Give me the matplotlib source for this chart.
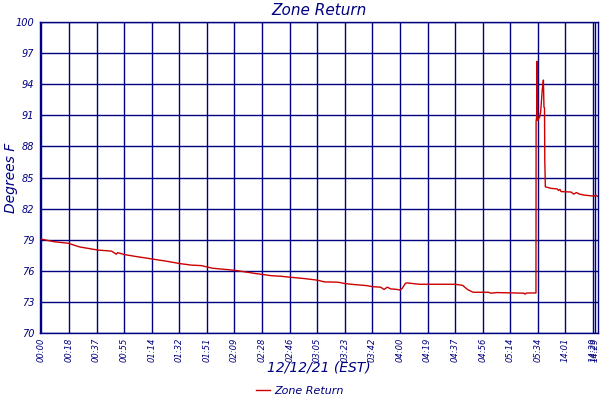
import matplotlib
matplotlib.use("Agg")
import matplotlib.pyplot as plt

# sample position (in tick-label units) and temperature
pos = [0, 0.48, 0.97, 1.39, 2.05, 2.54, 2.72, 2.76, 3.02, 3.38, 3.99, 4.35,
       4.59, 5.01, 5.43, 5.8, 6.2, 6.6, 7.0, 7.25, 7.5, 7.7, 8.0, 8.33, 8.7,
       9.06, 9.54, 10.0, 10.26, 10.75, 11.0, 11.35, 11.8, 12.0, 12.3, 12.42,
       12.54, 12.67, 12.84, 13.0, 13.08, 13.2, 13.26, 13.6, 13.72, 15.0,
       15.27, 15.4, 15.48, 15.65, 16.2, 16.3, 16.5, 17.5, 17.53, 17.6, 17.87,
       17.93, 17.935, 17.96, 17.97, 17.99, 18.0, 18.03, 18.06, 18.1, 18.16,
       18.2, 18.22, 18.24, 18.25, 18.27, 18.48, 18.7, 18.75, 18.8, 18.84,
       19.2, 19.3, 19.4, 19.5, 19.69, 20.04, 20.1, 20.18]
temp = [79.05, 78.8, 78.66, 78.3, 78.0, 77.9, 77.6, 77.75, 77.56, 77.4, 77.15,
        77.0, 76.9, 76.7, 76.55, 76.5, 76.25, 76.15, 76.05, 75.95, 75.85,
        75.76, 75.65, 75.53, 75.47, 75.37, 75.25, 75.1, 74.93, 74.9, 74.77,
        74.67, 74.57, 74.47, 74.42, 74.2, 74.42, 74.25, 74.22, 74.15, 74.3,
        74.8, 74.83, 74.73, 74.7, 74.7, 74.6, 74.3, 74.15, 73.93, 73.93,
        73.84, 73.9, 73.84, 73.75, 73.86, 73.86, 73.86, 90.4, 91.0, 96.2,
        91.0, 90.5, 90.7, 90.8, 91.3, 93.5, 94.4, 91.8, 91.7, 86.7, 84.1,
        83.95, 83.9, 83.75, 83.85, 83.64, 83.6, 83.4, 83.55, 83.4, 83.3,
        83.2, 83.3, 83.15]

tick_pos = list(range(21)) + [20.08]
tick_labels = ["00:00", "00:18", "00:37", "00:55", "01:14", "01:32", "01:51",
               "02:09", "02:28", "02:46", "03:05", "03:23", "03:42", "04:00",
               "04:19", "04:37", "04:56", "05:14", "05:34", "14:01", "14:29",
               "14:29"]
y_ticks = list(range(70, 101, 3))

navy = "#000080"
red = "#cc0000"

fig = plt.figure(figsize=(6, 4), dpi=100)
ax = fig.add_axes([0.0667, 0.1675, 0.93, 0.7775])

ax.plot(pos, temp, color=red, lw=1.0, label="Zone Return", zorder=3)

ax.set_xlim(-0.05, 20.18)
ax.set_ylim(70, 100)
ax.set_xticks(tick_pos)
ax.set_xticklabels(tick_labels, rotation=90, fontsize=6, style="italic",
                   color=navy)
ax.set_yticks(y_ticks)
ax.set_yticklabels([str(v) for v in y_ticks], fontsize=7, style="italic",
                   color=navy)
ax.tick_params(length=0, pad=4)
ax.tick_params(axis="x", pad=3)
ax.grid(True, color=navy, lw=1.0)
for s in ax.spines.values():
    s.set_color(navy)
    s.set_linewidth(1.0)

ax.set_title("Zone Return", fontsize=11, style="italic", color=navy, pad=5)
ax.set_ylabel("Degrees F", fontsize=10, style="italic", color=navy)
ax.yaxis.set_label_coords(-0.04, 0.5)
ax.set_xlabel("12/12/21 (EST)", fontsize=10, style="italic", color=navy)
ax.xaxis.set_label_coords(0.5, -0.09)

leg = fig.legend(loc="lower center", bbox_to_anchor=(0.5, -0.015),
                 frameon=False, fontsize=8, handlelength=1.2,
                 handletextpad=0.4)
for t in leg.get_texts():
    t.set_color(navy)
    t.set_style("italic")

fig.savefig("out.png", dpi=100)
